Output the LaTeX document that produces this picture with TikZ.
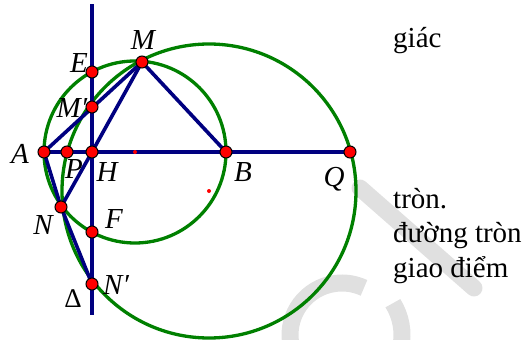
\documentclass[tikz,border=0pt]{standalone}
\usepackage{fontspec}
\setmainfont{Liberation Serif}
\usetikzlibrary{calc,positioning}
\definecolor{navy}{RGB}{0,0,128}
\definecolor{dgreen}{RGB}{0,128,0}
\tikzset{
  seg/.style={navy, line width=3.6pt},
  circ/.style={dgreen, line width=3.3pt},
  lbl/.style={font=\fontsize{29}{29}\selectfont\itshape, inner sep=0pt},
  txt/.style={font=\fontsize{29}{34}\selectfont, inner sep=0pt, anchor=base west},
  wm/.style={black!12, line width=17pt}
}
\newcommand{\RedDot}[1]{\draw[fill=red, line width=1pt] (#1) circle (6pt);}

\begin{document}
\begin{tikzpicture}[x=1pt, y=-1pt]
    \useasboundingbox (0,0) rectangle (531,340);

    % watermark
    \draw[wm, line cap=round] (360,188) -- (474,288);
    \draw[wm] (342,335) ++(172:52) arc (172:295:52);
    \draw[wm] (342,335) ++(328:60) arc (328:372:60);

    \coordinate (A) at (44,152);
    \coordinate (P) at (67,152);
    \coordinate (H) at (92,152);
    \coordinate (B) at (226,152);
    \coordinate (Q) at (350,152);
    \coordinate (M) at (142,62);
    \coordinate (E) at (92,72);
    \coordinate (M1) at (92,107);
    \coordinate (N) at (61,207);
    \coordinate (F) at (92,232);
    \coordinate (N1) at (92,284);
    \coordinate (D1) at (92,4);
    \coordinate (D2) at (92,315);
    \coordinate (O1) at (135,152);
    \coordinate (O2) at (209,191);

    \draw[circ] (O1) circle (91);
    \draw[circ] (O2) circle (147);

    \draw[seg] (A) -- (Q);
    \draw[seg] (D1) -- (D2);
    \draw[seg] (A) -- (M);
    \draw[seg] (H) -- (M);
    \draw[seg] (M) -- (B);
    \draw[seg] (A) -- (N);
    \draw[seg] (H) -- (N);
    \draw[seg] (N) -- (N1);

    \fill[red] (O1) circle (2pt);
    \fill[red] (O2) circle (2pt);

    \foreach \p in {A,P,H,B,Q,M,E,M1,N,F,N1}
        {\RedDot{\p}}

    \node[lbl] (lM) at (143,40) {M};
    \node[lbl] (lE) at (79,63) {E};
    \node[lbl] (lM1) at (72,108) {M′};
    \node[lbl] (lA) at (20,154) {A};
    \node[lbl] (lP) at (74,169) {P};
    \node[lbl] (lH) at (107,172) {H};
    \node[lbl] (lB) at (243,172) {B};
    \node[lbl] (lQ) at (334,179) {Q};
    \node[lbl] (lN) at (43,225) {N};
    \node[lbl] (lF) at (114,219) {F};
    \node[lbl] (lN1) at (116,285) {N′};
    \node[inner sep=0pt, font=\fontsize{27}{27}\selectfont] (lD) at (73,299) {Δ};

    \node[txt] (t1) at (393,48) {giác};
    \node[txt] (t2) at (393,208) {tròn.};
    \node[txt] (t3) at (393,242) {đường tròn};
    \node[txt] (t4) at (393,277) {giao điểm};

\end{tikzpicture}
\end{document}
